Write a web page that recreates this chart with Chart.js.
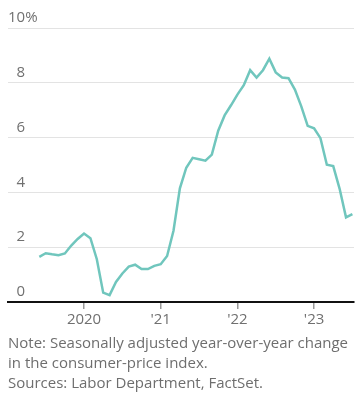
<!DOCTYPE html>
<html>
<head>
<meta charset="utf-8">
<script src="https://cdn.jsdelivr.net/npm/chart.js@4.4.0/dist/chart.umd.min.js"></script>
<style>
  html, body { margin: 0; padding: 0; background: #fff; }
  #wrap { position: relative; width: 357px; height: 402px; overflow: hidden; }
  #box { position: absolute; left: 0; top: 0; width: 357px; height: 333px; }
  #note { position: absolute; left: 8px; top: 332px; width: 347px;
          font-family: "Open Sans", "Noto Sans", sans-serif; font-size: 15px; line-height: 20px; color: #6e6e6e; }
</style>
</head>
<body>
<div id="wrap">
  <div id="box"><canvas id="c"></canvas></div>
  <div id="note">Note: Seasonally adjusted year-over-year change in the consumer-price index.<br>Sources: Labor Department, FactSet.</div>
</div>
<script>
// Months counted from January 2020 (0 = Jan 2020); data runs June 2019 to July 2023
const months = [-7,-6,-5,-4,-3,-2,-1,0,1,2,3,4,5,6,7,8,9,10,11,12,13,14,15,16,17,18,19,20,21,22,23,24,25,26,27,28,29,30,31,32,33,34,35,36,37,38,39,40,41,42];
const cpiChange = [
  1.65, 1.78, 1.74, 1.71, 1.77, 2.06, 2.30,
  2.50, 2.33, 1.56, 0.34, 0.25, 0.73, 1.04, 1.29, 1.36, 1.20, 1.20, 1.32,
  1.38, 1.68, 2.60, 4.15, 4.90, 5.26, 5.21, 5.16, 5.38, 6.25, 6.81, 7.18,
  7.57, 7.91, 8.46, 8.19, 8.46, 8.88, 8.38, 8.19, 8.17, 7.75, 7.14, 6.43,
  6.34, 5.98, 5.01, 4.96, 4.13, 3.09, 3.21
];
const xTickValues = [0, 12, 24, 36];
const xTickLabels = ['2020', "'21", "'22", "'23"];
const yTickValues = [0, 2, 4, 6, 8, 10];
const yTickLabels = ['0', '2', '4', '6', '8', '10'];
const yTopSuffix = '%';

const FONT = '"Open Sans", "Noto Sans", sans-serif';
const GREY = '#707070';
const FS = 15;

const percentPlugin = {
  id: 'percentSuffix',
  afterDraw(chart) {
    const y = chart.scales.y;
    const ctx = chart.ctx;
    ctx.save();
    ctx.font = FS + 'px ' + FONT;
    ctx.fillStyle = GREY;
    ctx.textAlign = 'left';
    ctx.textBaseline = 'middle';
    const widest = ctx.measureText(yTickLabels[yTickLabels.length - 1]).width;
    const xRight = y.right + 0 + widest;
    ctx.fillText(yTopSuffix, xRight, y.getPixelForValue(yTickValues[yTickValues.length - 1]) - 10);
    ctx.restore();
  }
};

new Chart(document.getElementById('c'), {
  type: 'line',
  data: {
    datasets: [{
      data: months.map((m, i) => ({ x: m, y: cpiChange[i] })),
      borderColor: '#70c6bd',
      borderWidth: 2.5,
      pointRadius: 0,
      tension: 0,
      fill: false
    }]
  },
  options: {
    responsive: true,
    maintainAspectRatio: false,
    animation: false,
    layout: { padding: { left: 8, right: 3, top: 28, bottom: 2 } },
    plugins: { legend: { display: false }, tooltip: { enabled: false } },
    scales: {
      x: {
        type: 'linear',
        min: -11.9,
        max: 42.25,
        afterBuildTicks(scale) { scale.ticks = xTickValues.map(v => ({ value: v })); },
        ticks: {
          callback(v) { const i = xTickValues.indexOf(v); return i >= 0 ? xTickLabels[i] : ''; },
          color: GREY,
          font: { family: FONT, size: FS },
          padding: 2,
          maxRotation: 0,
          autoSkip: false
        },
        grid: { drawOnChartArea: false, drawTicks: true, tickLength: 7, color: '#999', lineWidth: 1.5 },
        border: { display: true, color: '#111', width: 2 }
      },
      y: {
        position: 'left',
        min: 0,
        max: 10,
        afterBuildTicks(scale) { scale.ticks = yTickValues.map(v => ({ value: v })); },
        ticks: {
          callback(v) { const i = yTickValues.indexOf(v); return i >= 0 ? yTickLabels[i] : ''; },
          mirror: true,
          crossAlign: 'far',
          padding: 0,
          labelOffset: -10,
          color: GREY,
          font: { family: FONT, size: FS }
        },
        grid: { color: '#e3e3e3', lineWidth: 1, drawTicks: false },
        border: { display: false }
      }
    }
  },
  plugins: [percentPlugin]
});
</script>
</body>
</html>
